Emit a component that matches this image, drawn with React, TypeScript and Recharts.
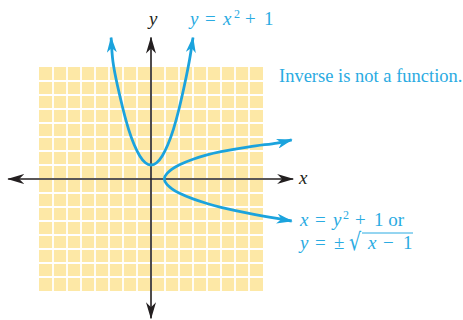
import React from 'react';
import { ComposedChart, XAxis, YAxis, Line, ReferenceArea, ReferenceLine } from 'recharts';

// grid (one unit per cell)
const gridMin = -8;
const gridMax = 8;
const gridTicks = [-7, -6, -5, -4, -3, -2, -1, 0, 1, 2, 3, 4, 5, 6, 7];

// axes extents (arrow tips)
const xAxisX = [-10.2, 10.15];
const yAxisY = [-9.95, 10.1];

// y = x^2 + 1
const parabolaX = [-2.85, -2.72, -2.4, -2.0, -1.6, -1.2, -0.8, -0.4, 0, 0.4, 0.8, 1.2, 1.6, 2.0, 2.4, 2.75, 3.0];
const parabolaY = [10.1, 8.4, 6.7, 5.0, 3.55, 2.45, 1.65, 1.16, 1.0, 1.16, 1.65, 2.45, 3.55, 5.0, 6.75, 8.5, 10.1];

// x = y^2 + 1
const inverseX = [10.05, 9.0, 7.0, 5.0, 4.0, 3.0, 2.0, 1.5, 1.15, 0.95, 1.15, 1.5, 2.0, 3.0, 4.0, 5.0, 7.0, 9.0, 10.05];
const inverseY = [2.8, 2.57, 2.3, 1.95, 1.72, 1.41, 1.0, 0.7, 0.4, 0, -0.4, -0.7, -1.0, -1.42, -1.75, -2.02, -2.45, -2.82, -3.0];

const BLUE = '#1BA3DD';
const TEXT_BLUE = '#2AABE2';
const BLACK = '#231F20';
const YELLOW = '#FDE8A6';

const toPoints = (xs: number[], ys: number[]) => xs.map((x, i) => ({ x, y: ys[i] }));
const parabolaData = toPoints(parabolaX, parabolaY);
const inverseData = toPoints(inverseX, inverseY);
const xAxisData = xAxisX.map((x) => ({ x, y: 0 }));
const yAxisData = yAxisY.map((y) => ({ x: 0, y }));

const W = 463;
const H = 320;
const UNIT = 14;
const OX = 151;
const OY = 179;
const xDomain = [-OX / UNIT, (W - OX) / UNIT];
const yDomain = [-(H - OY) / UNIT, OY / UNIT];

const serif = '"Liberation Serif", "DejaVu Serif", serif';
const FS = 19;

export default function App() {
  return (
    <div style={{ position: 'absolute', left: 0, top: 0, width: W, height: H, background: '#fff' }}>
      <svg width={0} height={0} style={{ position: 'absolute' }}>
        <defs>
          <marker id="blueArrow" viewBox="0 0 16 10" refX={15} refY={5} markerWidth={16} markerHeight={10}
            markerUnits="userSpaceOnUse" orient="auto-start-reverse">
            <path d="M0,0 L16,5 L0,10 L4.5,5 Z" fill={BLUE} />
          </marker>
          <marker id="blackArrow" viewBox="0 0 17 10" refX={16} refY={5} markerWidth={17} markerHeight={10}
            markerUnits="userSpaceOnUse" orient="auto-start-reverse">
            <path d="M0,0 L17,5 L0,10 L5,5 Z" fill={BLACK} />
          </marker>
        </defs>
      </svg>
      <ComposedChart width={W} height={H} margin={{ top: 0, right: 0, bottom: 0, left: 0 }}>
        <XAxis type="number" dataKey="x" domain={xDomain} allowDataOverflow hide />
        <YAxis type="number" dataKey="y" domain={yDomain} allowDataOverflow hide />
        <ReferenceArea x1={gridMin} x2={gridMax} y1={gridMin} y2={gridMax} fill={YELLOW} fillOpacity={1} stroke="none" />
        {gridTicks.map((t) => (
          <ReferenceLine key={'v' + t} segment={[{ x: t, y: gridMin }, { x: t, y: gridMax }]} stroke="#fff" strokeWidth={1.8} />
        ))}
        {gridTicks.map((t) => (
          <ReferenceLine key={'h' + t} segment={[{ x: gridMin, y: t }, { x: gridMax, y: t }]} stroke="#fff" strokeWidth={1.8} />
        ))}
        <Line data={xAxisData} dataKey="y" type="linear" stroke={BLACK} strokeWidth={1.6} dot={false} activeDot={false}
          isAnimationActive={false} markerStart="url(#blackArrow)" markerEnd="url(#blackArrow)" />
        <Line data={yAxisData} dataKey="y" type="linear" stroke={BLACK} strokeWidth={1.6} dot={false} activeDot={false}
          isAnimationActive={false} markerStart="url(#blackArrow)" markerEnd="url(#blackArrow)" />
        <Line data={parabolaData} dataKey="y" type="natural" stroke={BLUE} strokeWidth={2.8} dot={false} activeDot={false}
          isAnimationActive={false} markerStart="url(#blueArrow)" markerEnd="url(#blueArrow)" />
        <Line data={inverseData} dataKey="y" type="natural" stroke={BLUE} strokeWidth={2.8} dot={false} activeDot={false}
          isAnimationActive={false} markerStart="url(#blueArrow)" markerEnd="url(#blueArrow)" />
      </ComposedChart>
      <svg width={W} height={H} style={{ position: 'absolute', left: 0, top: 0, pointerEvents: 'none' }}
        fontFamily={serif}>
        {/* axis labels */}
        <text x={149} y={25} fontSize={FS} fontStyle="italic" fill={BLACK}>y</text>
        <text x={299} y={184} fontSize={FS} fontStyle="italic" fill={BLACK}>x</text>

        {/* y = x^2 + 1 */}
        <g fill={TEXT_BLUE} fontSize={FS}>
          <text x={190} y={25} fontStyle="italic">y</text>
          <text x={205} y={25}>=</text>
          <text x={223} y={25} fontStyle="italic">x</text>
          <text x={234} y={18} fontSize={12}>2</text>
          <text x={245} y={25}>+</text>
          <text x={264} y={25}>1</text>
        </g>

        <text x={279} y={82} fontSize={18.5} fill={TEXT_BLUE}>Inverse is not a function.</text>

        {/* x = y^2 + 1 or */}
        <g fill={TEXT_BLUE} fontSize={FS}>
          <text x={300} y={226} fontStyle="italic">x</text>
          <text x={315} y={226}>=</text>
          <text x={333} y={226} fontStyle="italic">y</text>
          <text x={343} y={219} fontSize={12}>2</text>
          <text x={355} y={226}>+</text>
          <text x={374} y={226}>1 or</text>
        </g>

        {/* y = ±√(x − 1) */}
        <g fill={TEXT_BLUE} fontSize={FS}>
          <text x={300} y={249} fontStyle="italic">y</text>
          <text x={315} y={249}>=</text>
          <text x={334} y={249}>±</text>
          <text transform="translate(349 250) scale(0.95 1.2)" x={0} y={0} fontSize={20}
            fontFamily='"DejaVu Serif", serif'>√</text>
          <text x={368} y={249} fontStyle="italic">x</text>
          <text x={383} y={249}>−</text>
          <text x={403} y={249}>1</text>
        </g>
        <line x1={362} y1={233} x2={413} y2={233} stroke={TEXT_BLUE} strokeWidth={1} />
      </svg>
    </div>
  );
}
